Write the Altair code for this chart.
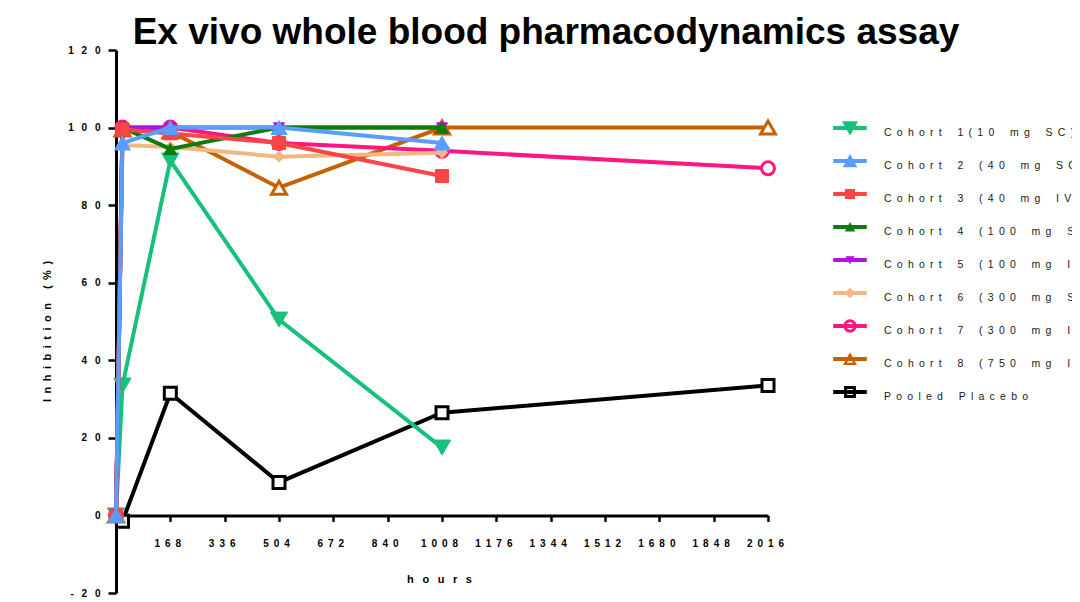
import altair as alt
import pandas as pd

# ---- data ----
series = [
    "Cohort 1(10 mg SC)",
    "Cohort 2 (40 mg SC)",
    "Cohort 3 (40 mg IV)",
    "Cohort 4 (100 mg SC)",
    "Cohort 5 (100 mg IV)",
    "Cohort 6 (300 mg SC)",
    "Cohort 7 (300 mg IV)",
    "Cohort 8 (750 mg IV)",
    "Pooled Placebo",
]

hours_c1 = [0, 20, 168, 504, 1008]
inhib_c1 = [0, 33.5, 91.5, 50.5, 17.5]
hours_c2 = [0, 20, 168, 504, 1008]
inhib_c2 = [0, 96, 100, 100, 96]
hours_c3 = [0, 20, 168, 504, 1008]
inhib_c3 = [0, 99.5, 98.5, 96, 87.5]
hours_c4 = [0, 20, 168, 504, 1008]
inhib_c4 = [0, 100, 94.5, 100, 100]
hours_c5 = [0, 20, 168, 504, 1008]
inhib_c5 = [0, 100, 100, 100, 100]
hours_c6 = [0, 20, 168, 504, 1008]
inhib_c6 = [0, 95.5, 95, 92.5, 93.5]
hours_c7 = [0, 20, 168, 504, 1008, 2016]
inhib_c7 = [0, 100, 100, 96, 94, 89.5]
hours_c8 = [0, 20, 168, 504, 1008, 2016]
inhib_c8 = [0, 99.5, 99, 84.5, 100, 100]
hours_pl = [20, 168, 504, 1008, 2016]
inhib_pl = [-1.5, 31.5, 8.5, 26.5, 33.5]

x_ticks = [168, 336, 504, 672, 840, 1008, 1176, 1344, 1512, 1680, 1848, 2016]
y_ticks = [-20, 0, 20, 40, 60, 80, 100, 120]

all_hours = [hours_c1, hours_c2, hours_c3, hours_c4, hours_c5, hours_c6, hours_c7, hours_c8, hours_pl]
all_inhib = [inhib_c1, inhib_c2, inhib_c3, inhib_c4, inhib_c5, inhib_c6, inhib_c7, inhib_c8, inhib_pl]

rows = []
for s, hs, vs in zip(series, all_hours, all_inhib):
    for h, v in zip(hs, vs):
        rows.append({"series": s, "hours": h, "inhibition": v})
df = pd.DataFrame(rows)

# ---- styles ----
colors = ["#19C07C", "#5A9CFF", "#F84545", "#0A7D0A", "#B012E6",
          "#F1B882", "#FF1680", "#C46200", "#000000"]
fills = colors[:6] + ["white", "white", "white"]
shapes = ["triangle-down", "triangle-up", "square", "triangle-up", "triangle-down",
          "diamond", "circle", "triangle-up", "square"]
sizes = [300, 256, 169, 169, 121, 121, 169, 225, 144]
sws = [1, 1, 1, 1, 1, 1, 3, 3, 3]
# drawing order, bottom to top
draw_order = [8, 0, 7, 6, 5, 4, 3, 2, 1]

BAR = "M -2.4 -0.28 H 2.4 V 0.28 H -2.4 Z "
def tri_down(k):
    return f"M {-k} {-0.85*k} L {k} {-0.85*k} L 0 {0.95*k} Z"
def tri_up(k):
    return f"M 0 {-0.95*k} L {k} {0.85*k} L {-k} {0.85*k} Z"
def square(k):
    return f"M {-k} {-k} H {k} V {k} H {-k} Z"
def diamond(k):
    return f"M 0 {-k} L {k} 0 L 0 {k} L {-k} 0 Z"
ring = ("M -0.95 0 A 0.95 0.95 0 1 1 0.95 0 A 0.95 0.95 0 1 1 -0.95 0 Z "
        "M -0.52 0 A 0.52 0.52 0 1 0 0.52 0 A 0.52 0.52 0 1 0 -0.52 0 Z")
hollow_tri = tri_up(1.0) + " M 0 -0.25 L -0.42 0.52 L 0.42 0.52 Z"
hollow_sq = square(0.85) + " M -0.42 -0.42 V 0.42 H 0.42 V -0.42 Z"
legend_paths = [
    BAR + tri_down(1.15),
    BAR + tri_up(1.05),
    BAR + square(0.72),
    BAR + tri_up(0.75),
    BAR + tri_down(0.65),
    BAR + diamond(0.75),
    BAR + ring,
    BAR + hollow_tri,
    BAR + hollow_sq,
]

FONT = "Liberation Sans"
SX = "\u2002"
SY = "\u2002 "
SXT = "\u2002 "
SYT = "\u2002"
SL = "\u2002"


def spaced(text, sep):
    return sep.join(list(text))


x_axis = alt.Axis(
    values=x_ticks, offset=-77.6, grid=False,
    title=spaced("hours", SXT), titleFont=FONT, titleFontSize=11, titleFontWeight="bold",
    titleColor="black", titleX=323, titleY=64, titleBaseline="middle",
    labelExpr=f"join(split(toString(datum.value), ''), '{SX}')",
    labelFont=FONT, labelFontSize=10, labelFontWeight="bold", labelColor="black",
    labelPadding=17, labelOverlap=False, labelFlush=False, labelOffset=-3,
    tickSize=6, tickWidth=2.5, tickColor="black",
    domainColor="black", domainWidth=3,
)
y_axis = alt.Axis(
    values=y_ticks, grid=False,
    title=spaced("Inhibition (%)", SYT), titleFont=FONT, titleFontSize=11, titleFontWeight="bold",
    titleColor="black", titleX=-69, titleY=281, titleAngle=270,
    titleBaseline="middle", titleAlign="center",
    labelExpr=f"join(split(toString(datum.value), ''), '{SY}')",
    labelFont=FONT, labelFontSize=10, labelFontWeight="bold", labelColor="black",
    labelPadding=8, labelOverlap=False,
    tickSize=8, tickWidth=2.5, tickColor="black",
    domainColor="black", domainWidth=3,
)

X = alt.X("hours:Q", scale=alt.Scale(domain=[0, 2016], nice=False, zero=False), axis=x_axis)
Y = alt.Y("inhibition:Q", scale=alt.Scale(domain=[-20, 120], nice=False), axis=y_axis)

layers = []
for i in draw_order:
    base = alt.Chart(df).transform_filter(alt.datum.series == series[i])
    layers.append(base.mark_line(color=colors[i], strokeWidth=4).encode(x=X, y=Y, order="hours:Q"))
    layers.append(base.mark_point(shape=shapes[i], size=sizes[i], filled=True, fill=fills[i],
                                  stroke=colors[i], strokeWidth=sws[i], opacity=1).encode(x=X, y=Y))

leg = alt.Legend(
    title=None, orient="none", legendX=727, legendY=71, padding=0,
    symbolSize=196, symbolStrokeWidth=0, symbolOpacity=1,
    labelOffset=27, rowPadding=15, labelLimit=1000,
    labelFont=FONT, labelFontSize=10.5, labelColor="#1a1a1a", labelBaseline="top",
    labelExpr=f"join(split(replace(datum.label, regexp(' ', 'g'), '\u2002'), ''), '{SL}')",
)
legend_layer = alt.Chart(df).transform_filter("false").mark_point(filled=True, opacity=1).encode(
    x=X, y=Y,
    color=alt.Color("series:N", scale=alt.Scale(domain=series, range=colors), legend=leg),
    shape=alt.Shape("series:N", scale=alt.Scale(domain=series, range=legend_paths), legend=leg),
)
layers.append(legend_layer)

title = alt.TitleParams(
    "Ex vivo whole blood pharmacodynamics assay",
    font=FONT, fontSize=37, fontWeight="bold", color="black",
    anchor="middle", frame="group", dx=104, dy=37, offset=1, baseline="alphabetic",
)

chart = alt.layer(*layers).properties(
    width=652, height=543, title=title,
    padding={"left": 108, "top": 42, "right": 304, "bottom": 4},
    autosize=alt.AutoSizeParams(type="none"),
).configure_view(stroke=None)

chart.save("out.html", embed_options={"renderer": "svg", "actions": False})
